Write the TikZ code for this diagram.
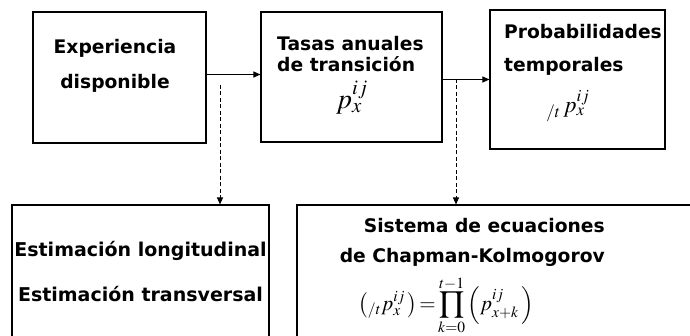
\documentclass[tikz,border=0pt]{standalone}
\usepackage{mathptmx}
\usepackage[no-math]{fontspec}
\setmainfont{DejaVu Sans}
\usetikzlibrary{arrows.meta, positioning}
\tikzset{
    box/.style={rectangle, draw=black, line width=1.1pt, fill=white, inner sep=0pt},
    lbl/.style={font=\bfseries\fontsize{18.7}{21}\selectfont, inner sep=0pt},
    eq/.style={inner sep=0pt},
    arrow/.style={line width=1pt, -{Triangle[length=7pt, width=6pt]}},
    dasharrow/.style={arrow, dash pattern=on 4pt off 2.5pt}
}

\begin{document}
\begin{tikzpicture}[x=1pt, y=-1pt]
    \useasboundingbox (0,0) rectangle (690,336);
    % upper row
    \node (exp) [box, minimum width=173pt, minimum height=131pt] at (119.5,77.5) {};
    \node (tasas) [box, minimum width=181pt, minimum height=130pt] at (351.5,77) {};
    \node (prob) [box, minimum width=175pt, minimum height=139pt] at (577.5,79.5) {};
    % lower row, cut off at the bottom
    \node (est) [box, minimum width=257pt, minimum height=150pt] at (140.5,280) {};
    \node (sis) [box, minimum width=410pt, minimum height=150pt] at (502,280) {};

    \node (exptxt) [lbl, align=center] at (115,66) {Experiencia\\[14pt]disponible};
    \node (tasastxt) [lbl, align=left, anchor=west] at (277,54) {Tasas anuales\\de transición};
    \node (tasasp) [eq, font=\fontsize{28}{32}\selectfont] at (352,98) {$p_x^{ij}$};
    \node (probtxt) [lbl, align=left, anchor=west] at (504,50) {Probabilidades\\[12pt]temporales};
    \node (probp) [eq, font=\fontsize{23}{27}\selectfont] at (568,106) {${}_{/t}\,p_x^{ij}$};
    \node (esttxt) [lbl, font=\bfseries\fontsize{19}{22}\selectfont, align=center] at (140.5,272) {Estimación longitudinal\\[23pt]Estimación transversal};
    \node (sistxt) [lbl, align=right, anchor=east] at (605,242) {Sistema de ecuaciones\\[9pt]de Chapman-Kolmogorov};
    \node (siseq) [eq, font=\fontsize{21}{25}\selectfont] at (446,305) {$\displaystyle \left({}_{/t}p_x^{ij}\,\right) {=} \prod_{k=0}^{t-1}\left(p_{x+k}^{ij}\,\right)$};

    % connectors
    \coordinate (d1) at (220,85);
    \coordinate (d2) at (456,79);
    \draw [arrow] ([yshift=3pt]exp.east) -- ([yshift=3pt]exp.east -| tasas.west);
    \draw [arrow] (tasas.east |- prob.west) -- (prob.west);
    \draw [dasharrow] (d1) -- (d1 |- est.north);
    \draw [dasharrow] (d2) -- (d2 |- sis.north);
\end{tikzpicture}
\end{document}
